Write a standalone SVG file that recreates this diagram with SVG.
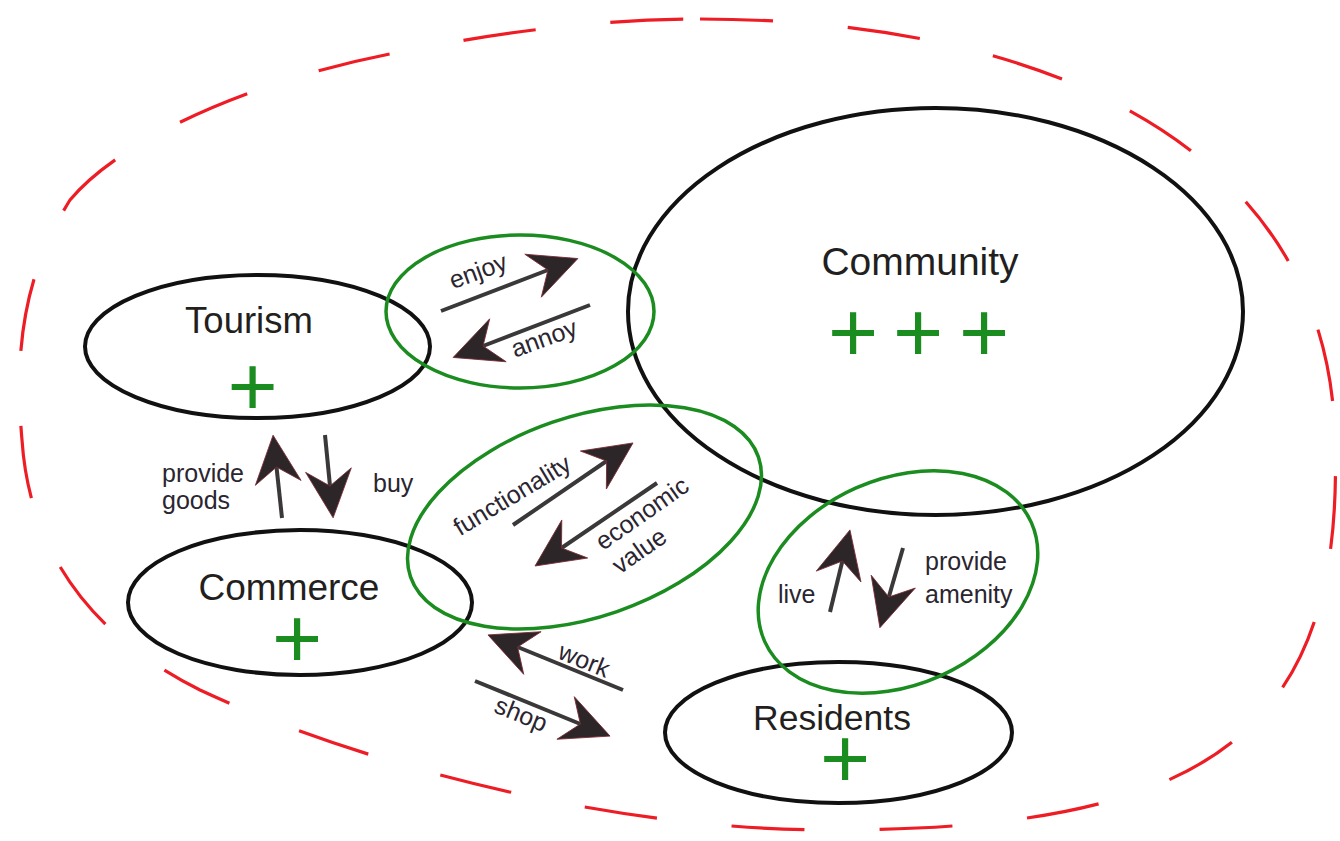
<svg xmlns="http://www.w3.org/2000/svg" width="1340" height="841" viewBox="0 0 1340 841">
<style>
  .bg { fill: #ffffff; }
  .outer { fill: none; stroke: #ee1c24; stroke-width: 3.2; stroke-dasharray: 73 75; }
  .node { fill: none; stroke: #111111; stroke-width: 4; }
  .rel { fill: none; stroke: #1b8c1f; stroke-width: 3.5; }
  .title { font-family: "Liberation Sans", Arial, sans-serif; fill: #231f20; text-anchor: middle; }
  .plus { font-family: "Liberation Sans", Arial, sans-serif; fill: #1b8c1f; text-anchor: middle; font-size: 86px; }
  .lbl { font-family: "Liberation Sans", Arial, sans-serif; fill: #2a2530; font-size: 25px; }
  .mid { text-anchor: middle; }
  .arrow { fill: none; stroke: #3a3838; stroke-width: 4; marker-end: url(#ah); }
</style>
<defs>
  <marker id="ah" markerUnits="userSpaceOnUse" markerWidth="60" markerHeight="60" viewBox="-20 -30 60 60" refX="0" refY="0" orient="auto" overflow="visible">
    <path d="M32,0 L-16,-23 L0,0 L-16,23 Z" fill="#2d2628" stroke="#7a2a35" stroke-width="0.8" stroke-linejoin="miter"/>
  </marker>
</defs>
<rect class="bg" x="0" y="0" width="1340" height="841"/>

<path id="boundary" class="outer" d="M700,19 C1050,19 1330,150 1335,440 C1345,740 1200,830 830,830 C600,830 350,760 200,690 C100,640 30,560 22,440 C15,360 20,280 70,200 C120,140 250,80 400,52 C500,32 600,19 700,19 Z"/>

<g id="community">
  <ellipse class="node" cx="935.5" cy="311.5" rx="307.5" ry="203.5"/>
  <text class="title" x="920" y="275" font-size="39">Community</text>
  <text class="plus" x="853" y="362">+</text>
  <text class="plus" x="918" y="362">+</text>
  <text class="plus" x="984" y="362">+</text>
</g>

<g id="tourism">
  <ellipse class="node" cx="257.5" cy="346.5" rx="172.5" ry="71.5"/>
  <text class="title" x="249" y="333" font-size="36.5">Tourism</text>
  <text class="plus" x="252.5" y="416">+</text>
</g>

<g id="commerce">
  <ellipse class="node" cx="300" cy="602.5" rx="172" ry="72.5"/>
  <text class="title" x="289" y="600" font-size="37">Commerce</text>
  <text class="plus" x="297" y="668">+</text>
</g>

<g id="residents">
  <ellipse class="node" cx="838.5" cy="732.5" rx="173.5" ry="70.5"/>
  <text class="title" x="832" y="730" font-size="35.5">Residents</text>
  <text class="plus" x="845" y="788">+</text>
</g>

<g id="rel-tourism-community">
  <ellipse class="rel" cx="520" cy="311.5" rx="134" ry="76.5"/>
</g>
<g id="rel-commerce-community">
  <ellipse class="rel" cx="0" cy="0" rx="184" ry="100" transform="translate(584.5,517) rotate(-19)"/>
</g>
<g id="rel-residents-community">
  <ellipse class="rel" cx="0" cy="0" rx="146" ry="103" transform="translate(898,582) rotate(-24)"/>
</g>

<g id="connectors">
  <path class="arrow" d="M441,311 L548,270"/>
  <path class="arrow" d="M590,305 L483,346"/>
  <path class="arrow" d="M282,518 L276.5,467"/>
  <path class="arrow" d="M325,435 L330,486"/>
  <path class="arrow" d="M513,525 L606.6,461"/>
  <path class="arrow" d="M657,483 L561.5,548"/>
  <path class="arrow" d="M623,690 L517.6,647"/>
  <path class="arrow" d="M475,681 L580.4,724"/>
  <path class="arrow" d="M830,612 L842.4,561"/>
  <path class="arrow" d="M903,548 L888.8,597"/>

  <text class="lbl mid" transform="translate(481,279) rotate(-20)">enjoy</text>
  <text class="lbl mid" transform="translate(547,346) rotate(-20)">annoy</text>
  <text class="lbl" x="162" y="482">provide</text>
  <text class="lbl" x="162" y="509">goods</text>
  <text class="lbl" x="373" y="492">buy</text>
  <text class="lbl mid" font-size="26" transform="translate(516.5,502.5) rotate(-31)">functionality</text>
  <g transform="translate(603,551) rotate(-35)">
    <text class="lbl" x="0" y="0">economic</text>
    <text class="lbl" x="0" y="29">value</text>
  </g>
  <text class="lbl mid" transform="translate(581,668) rotate(22)">work</text>
  <text class="lbl mid" transform="translate(518,722) rotate(22)">shop</text>
  <text class="lbl" x="778" y="603">live</text>
  <text class="lbl" x="925" y="570">provide</text>
  <text class="lbl" x="925" y="603">amenity</text>
</g>
</svg>
